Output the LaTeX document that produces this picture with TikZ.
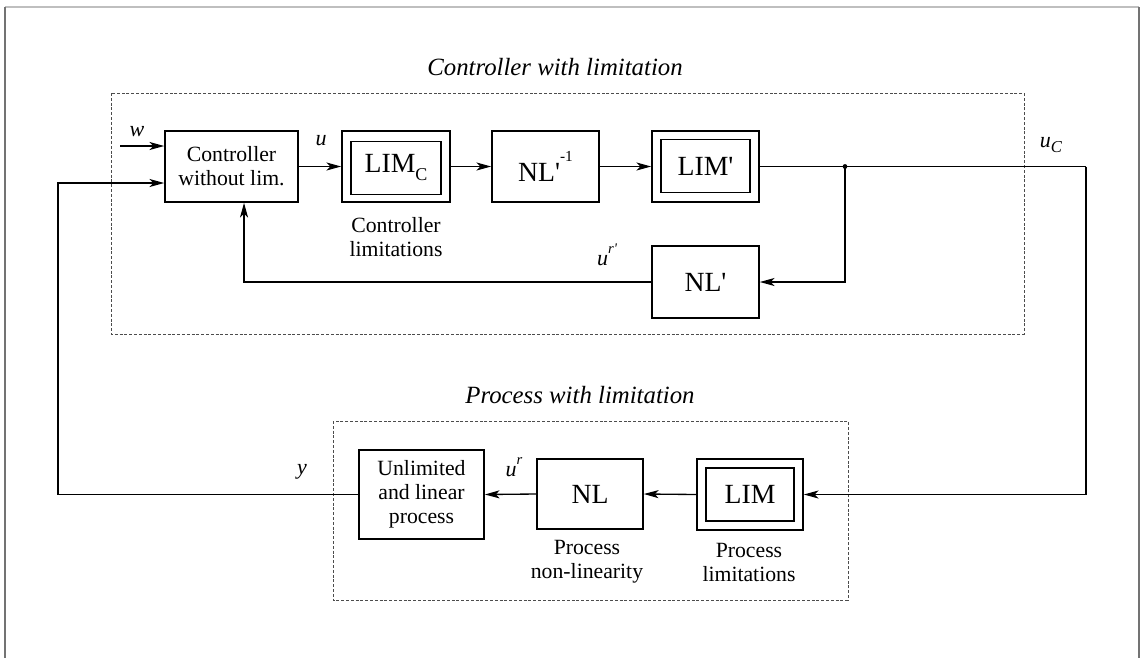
\documentclass[tikz,border=0pt]{standalone}
\usepackage{fontspec}
\setmainfont{Liberation Serif}
\usetikzlibrary{arrows.meta,calc}

\newcommand{\bodyfont}{\fontsize{16.3}{18}\selectfont}
\newcommand{\bigfont}{\fontsize{20.8}{22}\selectfont}
\newcommand{\titlefont}{\fontsize{18.6}{20}\selectfont\itshape}
\newcommand{\sigfont}{\fontsize{16.5}{18}\selectfont\itshape}
\newcommand{\apos}{\textquotesingle}

\tikzset{
  blk/.style={draw, line width=1.25pt, inner sep=0pt, align=center},
  inblk/.style={draw, line width=0.95pt, inner sep=0pt, align=center, font=\bigfont},
  grp/.style={draw=black!70, line width=0.7pt, dash pattern=on 2.2pt off 1.4pt},
  arr/.style={line width=1pt, -{Stealth[length=11pt,width=6pt,inset=2.8pt]}},
  wire/.style={line width=1pt},
  sig/.style={font=\sigfont, inner sep=0pt},
  captxt/.style={font=\bodyfont, align=center, inner sep=0pt},
}

\begin{document}
\begin{tikzpicture}[x=0.75pt, y=-0.75pt]
\useasboundingbox (0,0) rectangle (1140,658);

% page frame
\draw[black!25, line width=0.8pt] (5,7) -- (1139,7);
\draw[black!55, line width=1.3pt] (5,7) -- (5,658);
\draw[black!55, line width=1.3pt] (1139,7) -- (1139,658);

% group frames and their titles
\draw[grp] (111,93) rectangle (1024,334);
\draw[grp] (333,421) rectangle (848,600);
\node[font=\titlefont, inner sep=0pt] (tctrl) at (555,67) {Controller with limitation};
\node[font=\titlefont, inner sep=0pt] (tproc) at (580,395) {Process with limitation};

% controller row
\node[blk, font=\bodyfont, minimum width=99.75pt, minimum height=53.25pt] (ctrl) at (231.5,166.5) {Controller\\without lim.};
\node[blk, minimum width=81pt, minimum height=53.25pt] (limcO) at (396,166.5) {};
\node[inblk, minimum width=67.5pt, minimum height=39.75pt] (limc) at (396,168) {LIM\raisebox{-6pt}{\fontsize{13.5}{14}\selectfont C}};
\node[blk, font=\bigfont, minimum width=80.25pt, minimum height=53.25pt] (nlinv) at (545.5,166.5) {NL\apos\raisebox{15pt}{\fontsize{11.5}{12}\selectfont -1}};
\node[blk, minimum width=80.25pt, minimum height=53.25pt] (limpO) at (705.5,166.5) {};
\node[inblk, minimum width=66.75pt, minimum height=39.75pt] (limp) at (705.5,166) {LIM\apos};
\node[blk, font=\bigfont, minimum width=80.25pt, minimum height=54pt] (nlp) at (705.5,282) {NL\apos};
\node[captxt] (capc) at (396,237) {Controller\\limitations};

% process row
\node[blk, font=\bodyfont, minimum width=93.75pt, minimum height=66.75pt] (proc) at (421.5,494.5) {Unlimited\\and linear\\process};
\node[blk, font=\bigfont, minimum width=79.5pt, minimum height=52.5pt] (nl) at (590,494) {NL};
\node[blk, minimum width=79.5pt, minimum height=53.25pt] (limO) at (750,494.5) {};
\node[inblk, minimum width=66pt, minimum height=39.75pt] (lim) at (750,494.5) {LIM};
\node[captxt] (capnl) at (587,562) {Process\\non-linearity};
\node[captxt] (caplim) at (749,562) {Process\\limitations};

% routing points
\coordinate (win) at (120,146);
\coordinate (fb) at (58,183);
\coordinate (j) at (845,166.5);
\coordinate (jr) at (1086,166.5);

% signal flow
\draw[arr] (win) -- (win -| ctrl.west);
\draw[arr] (ctrl.east) -- (limcO.west);
\draw[arr] (limcO.east) -- (nlinv.west);
\draw[arr] (nlinv.east) -- (limpO.west);
\draw[wire] (limpO.east) -- (jr);
\draw[arr] (jr) |- (limO.east);
\draw[arr] (j) |- (nlp.east);
\fill (j) circle (1.8pt);
\draw[arr] (nlp.west) -| ([xshift=9.4pt]ctrl.south);
\draw[arr] (limO.west) -- (nl.east);
\draw[arr] (nl.west) -- (proc.east);
\draw[arr] (proc.west) -| (fb) -- (fb -| ctrl.west);

% signal names
\node[sig] (lw) at (137,132) {w};
\node[sig] (lu) at (321,141) {u};
\node[sig] (luc) at (1051,145) {u\raisebox{-4pt}{\fontsize{12.5}{12}\selectfont C}};
\node[sig] (lurp) at (607,255) {u\raisebox{9pt}{\fontsize{11}{12}\selectfont r\apos}};
\node[sig] (ly) at (302,472) {y};
\node[sig] (lur) at (514,467) {u\raisebox{9pt}{\fontsize{11}{12}\selectfont r}};
\end{tikzpicture}
\end{document}
